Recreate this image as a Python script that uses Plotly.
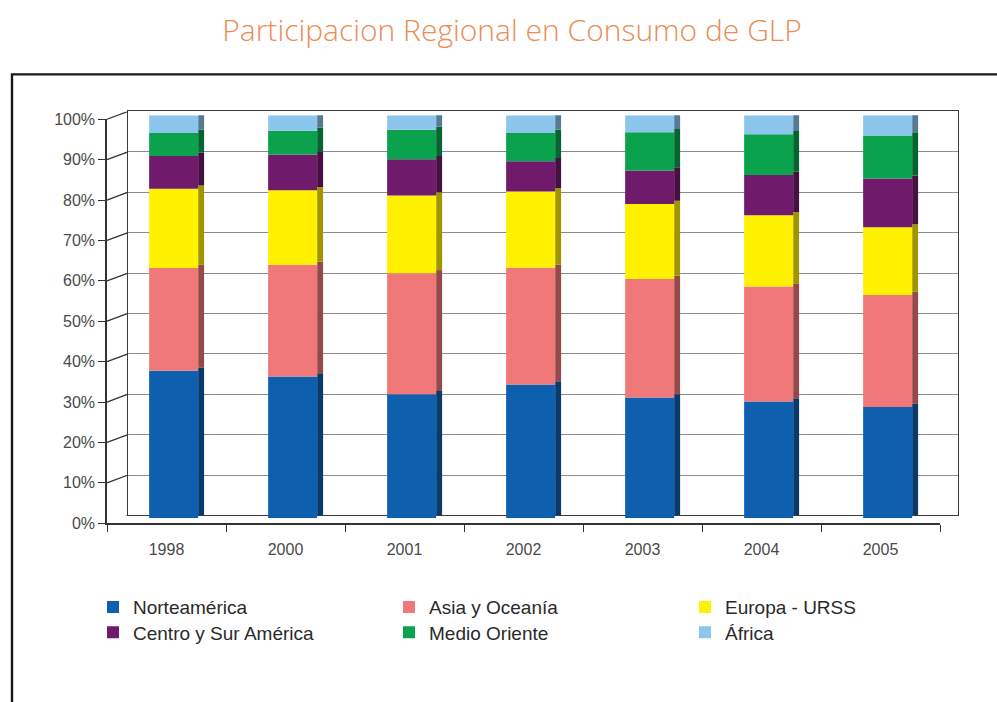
import numpy as np
import plotly.graph_objects as go

# ---- data: regional share of LPG consumption (%) ----
years = ["1998", "2000", "2001", "2002", "2003", "2004", "2005"]
norteamerica = [36.6, 35.2, 30.8, 33.2, 30.0, 29.0, 27.6]
asia_oceania = [25.5, 27.7, 30.0, 29.0, 29.4, 28.5, 27.8]
europa_urss = [19.7, 18.5, 19.3, 18.9, 18.6, 17.7, 16.8]
centro_sur = [8.1, 8.9, 9.0, 7.5, 8.3, 10.0, 12.1]
medio_oriente = [5.7, 5.9, 7.3, 7.0, 9.5, 10.1, 10.7]
africa = [4.4, 3.8, 3.6, 4.4, 4.2, 4.7, 5.0]

series_names = ["Norteamérica", "Asia y Oceanía", "Europa - URSS",
                "Centro y Sur América", "Medio Oriente", "África"]
series_values = [norteamerica, asia_oceania, europa_urss,
                 centro_sur, medio_oriente, africa]
series_colors = ["#0F5FAF", "#F07878", "#FFF100", "#701A6C", "#0BA24E", "#8CC6EC"]
legend_rows = ["legend", "legend", "legend", "legend2", "legend2", "legend2"]

y_ticks = list(range(0, 101, 10))
y_tick_text = [f"{v}%" for v in y_ticks]

W, H = 997, 702

# back wall box in pixels and the 3D depth of the floor
WALL_L, WALL_R, WALL_T, WALL_B = 128, 958, 106, 520
FRONT_L, FRONT_R = 107, 940
DEPTH_PX = 8


def fx(p):
    return p / W


def fy(p):
    return 1 - p / H


def darker(hex_color, k=0.62):
    h = hex_color.lstrip("#")
    r, g, b = (int(h[i:i + 2], 16) for i in (0, 2, 4))
    return "rgb({},{},{})".format(int(r * k), int(g * k), int(b * k))


fig = go.Figure()

# back wall subplot (gridlines only)
fig.add_trace(go.Scatter(x=[0], y=[0], mode="markers", marker=dict(opacity=0),
                         xaxis="x", yaxis="y", showlegend=False, hoverinfo="skip"))
# front axes subplot (tick labels, axis lines)
fig.add_trace(go.Scatter(x=years, y=[0] * len(years), mode="markers",
                         marker=dict(opacity=0), xaxis="x2", yaxis="y2",
                         showlegend=False, hoverinfo="skip"))

front_offset = -0.146
front_width = 0.412
side_width = 0.05

bases = np.cumsum([np.zeros(len(years))] + [np.array(v) for v in series_values[:-1]], axis=0)

# dark side faces of the 3D columns
for vals, base, col in zip(series_values, bases, series_colors):
    fig.add_trace(go.Bar(
        x=years, y=vals, base=base + 0.8, xaxis="x2", yaxis="y3",
        offset=front_offset + front_width, width=side_width,
        marker=dict(color=darker(col), line=dict(width=0)),
        showlegend=False, hoverinfo="skip"))

# front faces
for name, vals, base, col, lg in zip(series_names, series_values, bases,
                                     series_colors, legend_rows):
    fig.add_trace(go.Bar(
        x=years, y=vals, base=base, name=name, xaxis="x2", yaxis="y3",
        offset=front_offset, width=front_width, legend=lg,
        marker=dict(color=col, line=dict(width=0)),
        hovertemplate="%{x}: %{y:.1f}%<extra>" + name + "</extra>"))

# left wall and floor edges: slanted lines from the front axis to the back wall
depth_units = DEPTH_PX * 100 / (WALL_B - WALL_T)
shapes = []
for v in y_ticks:
    shapes.append(dict(type="line", xref="paper", yref="y",
                       x0=fx(WALL_L), x1=fx(FRONT_L), y0=v, y1=v - depth_units,
                       line=dict(color="#333333", width=1.3), layer="above"))
shapes.append(dict(type="line", xref="paper", yref="y",
                   x0=fx(WALL_R), x1=fx(FRONT_R), y0=0, y1=-depth_units,
                   line=dict(color="#444444", width=1.2), layer="above"))
# chart frame
shapes.append(dict(type="rect", xref="paper", yref="paper",
                   x0=fx(12), x1=fx(1010), y0=fy(68), y1=fy(715),
                   line=dict(color="#1a1a1a", width=2.4), layer="below"))

axis_font = dict(family="Liberation Sans, Arial, sans-serif", size=16, color="#4a4a4a")
legend_font = dict(family="Liberation Sans, Arial, sans-serif", size=19, color="#2a2a2a")

fig.update_layout(
    width=W, height=H,
    margin=dict(l=0, r=0, t=0, b=0),
    paper_bgcolor="white", plot_bgcolor="rgba(0,0,0,0)",
    barmode="overlay",
    title=dict(text="Participacion Regional en Consumo de GLP",
               x=fx(512), y=fy(30), xanchor="center", yanchor="middle",
               font=dict(family="Open Sans, sans-serif", size=30,
                         color="#E98D55", weight=300)),
    xaxis=dict(domain=[fx(WALL_L), fx(WALL_R)], range=[0, 1], showticklabels=False,
               ticks="", showgrid=False, zeroline=False, showline=True,
               mirror=True, linecolor="#3a3a3a", linewidth=1.2, fixedrange=True),
    yaxis=dict(domain=[fy(WALL_B), fy(WALL_T)], range=[0, 100], tickvals=y_ticks,
               showticklabels=False, ticks="", showgrid=True,
               gridcolor="#8c8c8c", gridwidth=1, zeroline=False,
               showline=True, mirror=True, linecolor="#3a3a3a",
               linewidth=1.2, fixedrange=True),
    xaxis2=dict(domain=[fx(FRONT_L), fx(FRONT_R)], anchor="y2", type="category",
                categoryorder="array", categoryarray=years,
                range=[-0.5, len(years) - 0.5], tickson="boundaries",
                ticks="outside", ticklen=7, tickcolor="#333333",
                ticklabelstandoff=11,
                showgrid=False, zeroline=False, showline=True,
                linecolor="#333333", linewidth=1.5, tickfont=axis_font,
                fixedrange=True),
    yaxis2=dict(domain=[fy(WALL_B + DEPTH_PX), fy(WALL_T + DEPTH_PX)], anchor="x2",
                range=[0, 100], tickvals=y_ticks, ticktext=y_tick_text,
                ticks="outside", ticklen=7, tickcolor="#333333", showgrid=False,
                zeroline=False, showline=True, linecolor="#333333",
                linewidth=1.5, tickfont=axis_font, fixedrange=True),
    yaxis3=dict(domain=[fy(523), fy(110)], anchor="x2", range=[0, 100],
                visible=False, fixedrange=True),
    legend=dict(orientation="h", x=fx(93), y=fy(614), xanchor="left",
                yanchor="middle", entrywidth=251, traceorder="normal",
                font=legend_font, bgcolor="rgba(0,0,0,0)",
                itemclick=False, itemdoubleclick=False),
    legend2=dict(orientation="h", x=fx(93), y=fy(640), xanchor="left",
                 yanchor="middle", entrywidth=251, traceorder="normal",
                 font=legend_font, bgcolor="rgba(0,0,0,0)",
                 itemclick=False, itemdoubleclick=False),
    shapes=shapes,
    showlegend=True,
)

fig.write_html("out.html")
